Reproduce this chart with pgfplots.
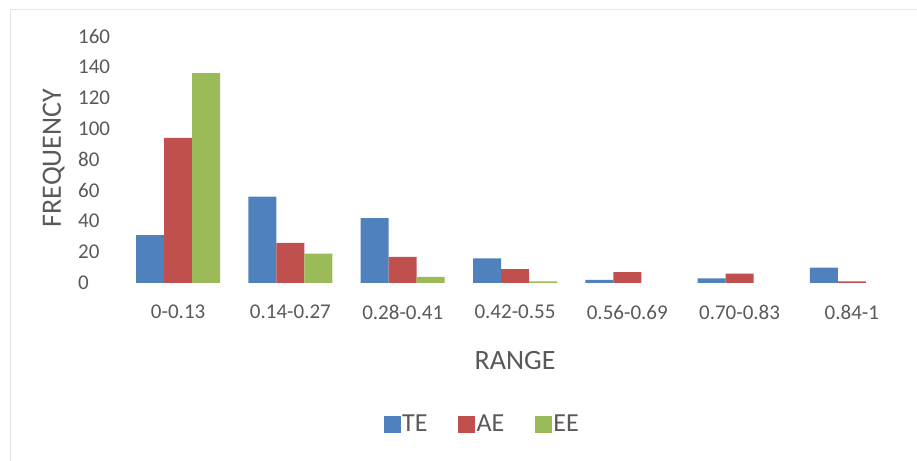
\documentclass[border=0pt]{standalone}
\usepackage{pgfplots}
\pgfplotsset{compat=1.18}
\usepackage{fontspec}
\setmainfont{Carlito}
\definecolor{teblue}{HTML}{4F81BD}
\definecolor{aered}{HTML}{C0504D}
\definecolor{eegreen}{HTML}{9BBB59}
\definecolor{txt}{HTML}{595959}
\begin{document}
\begin{tikzpicture}
\begin{axis}[
    at={(122bp,178bp)}, anchor=south west,
    scale only axis,
    width=786bp, height=247bp,
    xmin=-0.5, xmax=6.5,
    ymin=0, ymax=160,
    ytick={0,20,...,160},
    xtick=data,
    xticklabels={0-0.13,0.14-0.27,0.28-0.41,0.42-0.55,0.56-0.69,0.70-0.83,0.84-1},
    ybar=0pt, bar width=28bp,
    axis line style={draw=none},
    major tick length=0pt,
    /pgf/number format/assume math mode=true,
    tick label style={font=\fontsize{21bp}{25bp}\selectfont, text=txt},
    yticklabel style={anchor=west, inner sep=0pt, xshift=-44bp},
    xticklabel style={anchor=center, inner sep=0pt, yshift=-29bp},
    xlabel={RANGE},
    ylabel={FREQUENCY},
    label style={font=\fontsize{28bp}{32bp}\selectfont, text=txt},
    xlabel style={at={(axis description cs:0.5,-0.312)}, anchor=center},
    ylabel style={at={(axis description cs:-0.087,0.506)}, anchor=center},
    legend columns=3,
    legend style={at={(axis description cs:0.458,-0.571)}, anchor=center,
        draw=none, font=\fontsize{26bp}{30bp}\selectfont, text=txt,
        /tikz/every even column/.append style={column sep=29bp},
        nodes={inner sep=1.5bp}},
    legend image code/.code={\fill[#1,draw=none] (0bp,-8.5bp) rectangle (17bp,8.5bp);},
]
\addplot[fill=teblue, draw=none] coordinates {(0,31) (1,56) (2,42) (3,16) (4,2) (5,3) (6,10)};
\addplot[fill=aered, draw=none] coordinates {(0,94) (1,26) (2,17) (3,9) (4,7) (5,6) (6,1)};
\addplot[fill=eegreen, draw=none] coordinates {(0,136) (1,19) (2,4) (3,1) (4,0) (5,0) (6,0)};
\legend{TE,AE,EE}
\end{axis}
\pgfresetboundingbox
\path[use as bounding box] (0,0) rectangle (917bp,461bp);
\draw[black!10, line width=1bp] (10bp,0) -- (10bp,451bp) -- (917bp,451bp);
\end{tikzpicture}
\end{document}
